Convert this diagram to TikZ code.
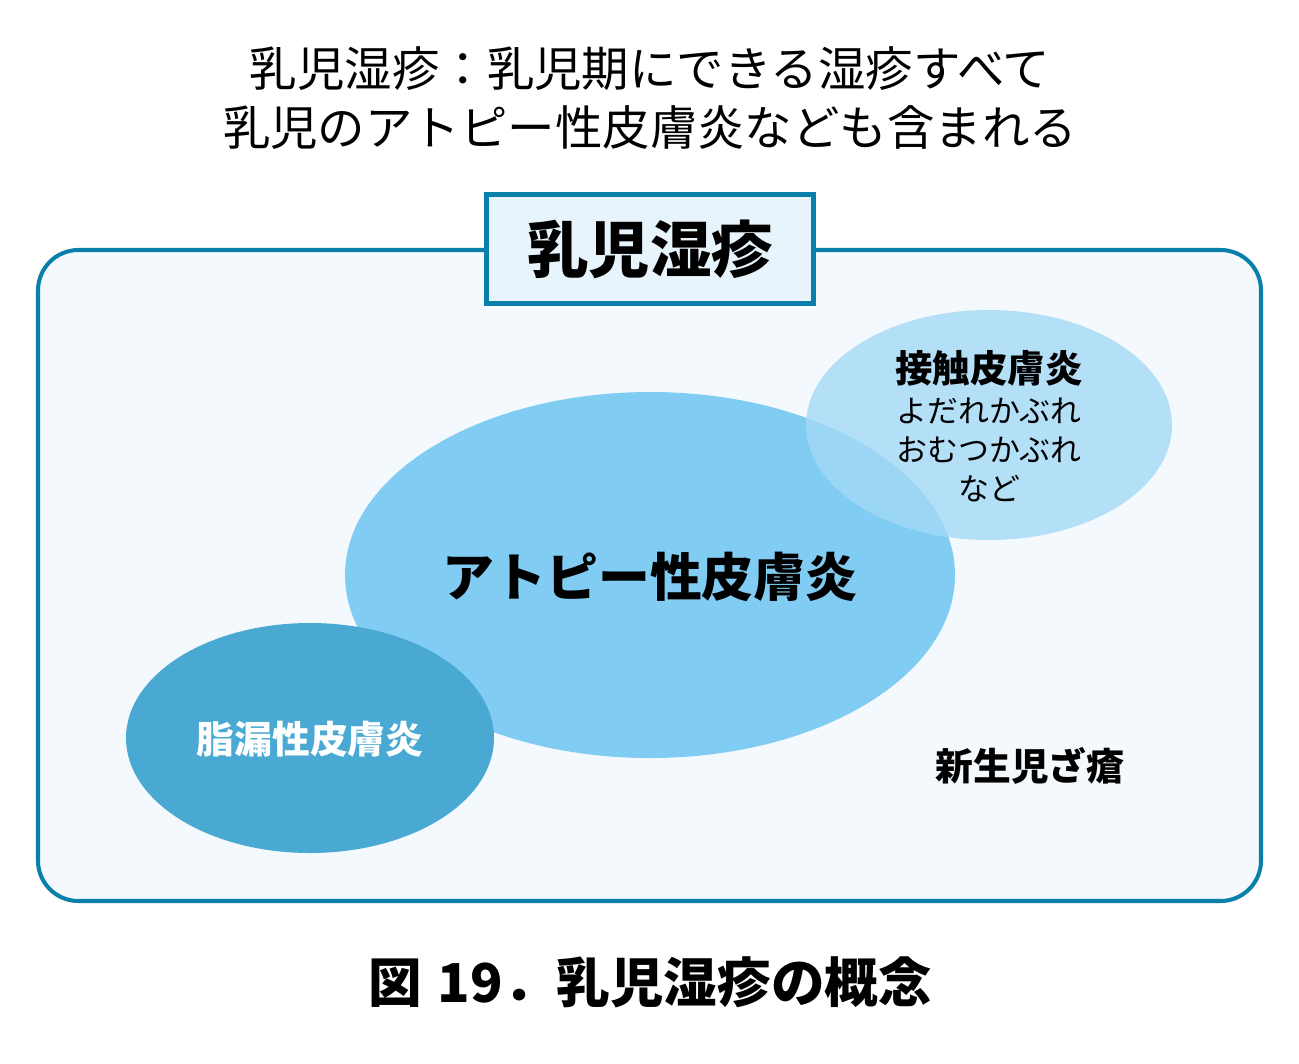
\documentclass[tikz,border=0pt]{standalone}
\usepackage{fontspec}
\setmainfont{Noto Sans CJK JP}
\definecolor{frameblue}{RGB}{8,128,170}
\definecolor{boxfill}{RGB}{232,244,251}
\definecolor{areafill}{RGB}{244,249,253}
\definecolor{atopyblue}{RGB}{128,204,242}
\definecolor{contactblue}{RGB}{163,217,246}
\definecolor{sebblue}{RGB}{74,169,211}
\tikzset{
    label/.style={inner sep=0pt, align=center},
}
\begin{document}
\begin{tikzpicture}[x=0.02cm, y=-0.02cm]
        \useasboundingbox (0, 0) rectangle (1299, 1063);

        \node[label, font=\fontsize{27}{34}\selectfont] (heading) at (650, 98) {乳児湿疹：乳児期にできる湿疹すべて\\乳児のアトピー性皮膚炎なども含まれる};

        \path[rounded corners=23pt, draw=frameblue, line width=2.3pt, fill=areafill] (38, 250) rectangle (1261, 901);

        \path[fill=atopyblue] (650, 575) ellipse [x radius=305, y radius=183];
        \path[fill=contactblue, fill opacity=0.8] (989, 425) ellipse [x radius=183, y radius=115];
        \path[fill=sebblue] (310, 738) ellipse [x radius=184, y radius=115];

        \node[draw=frameblue, line width=2.3pt, fill=boxfill, minimum width=327*0.02cm, minimum height=109*0.02cm, font=\fontsize{35}{40}\selectfont\bfseries] (eczema) at (650, 249) {乳児湿疹};

        \node[label, font=\fontsize{29.5}{34}\selectfont\bfseries] (atopy) at (650, 577) {アトピー性皮膚炎};
        \node[label, text=white, font=\fontsize{21.5}{26}\selectfont\bfseries] (seb) at (310, 739) {脂漏性皮膚炎};
        \node[label, font=\fontsize{21.3}{26}\selectfont\bfseries] (contact) at (989, 368) {接触皮膚炎};
        \node[label, anchor=north, font=\fontsize{17.6}{22}\selectfont] (examples) at (989, 398) {よだれかぶれ\\おむつかぶれ\\など};
        \node[label, font=\fontsize{21.5}{26}\selectfont\bfseries] (acne) at (1030, 766) {新生児ざ瘡};

        \node[label, font=\fontsize{30.5}{34}\selectfont\bfseries] (caption) at (650, 982) {図\hspace{0.3em}19．乳児湿疹の概念};
    \end{tikzpicture}
\end{document}
